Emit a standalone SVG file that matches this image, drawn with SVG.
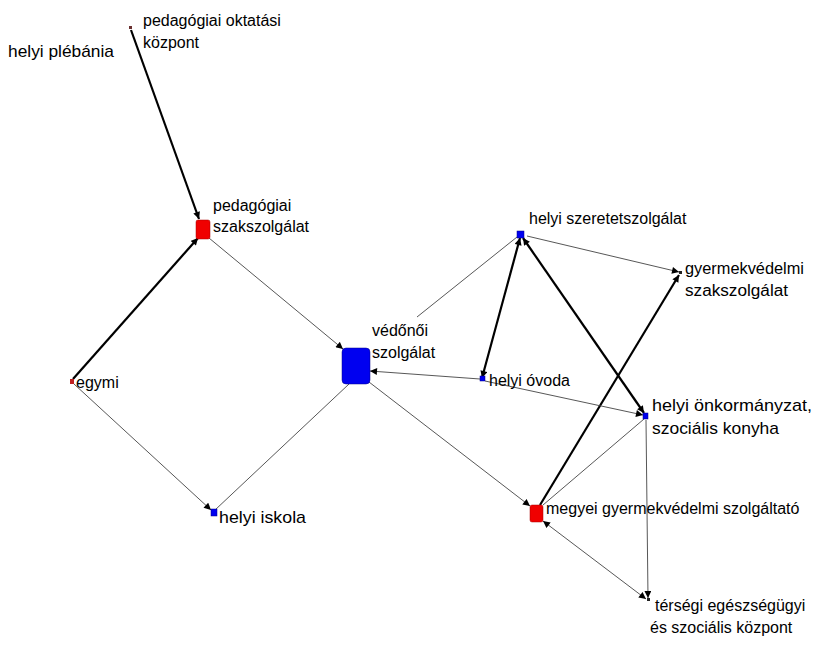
<svg xmlns="http://www.w3.org/2000/svg" width="826" height="654" viewBox="0 0 826 654">
<defs>
<style>
text{font-family:"Liberation Sans",Arial,sans-serif;font-size:16px;fill:#000}
.w{font-size:17px}
.thin{stroke:#444;stroke-width:0.9;fill:none}
.thick{stroke:#000;stroke-width:2.2;fill:none}
.red{fill:#f00000;stroke:#a00;stroke-width:0.5}
.blue{fill:#0000f0;stroke:#008;stroke-width:0.5}
</style>
<marker id="a" viewBox="0 0 10 10" refX="10" refY="5" markerWidth="8" markerHeight="7" markerUnits="userSpaceOnUse" orient="auto"><path d="M0,0L10,5L0,10z" fill="#000"/></marker>
<marker id="as" viewBox="0 0 10 10" refX="10" refY="5" markerWidth="8" markerHeight="7" markerUnits="userSpaceOnUse" orient="auto-start-reverse"><path d="M0,0L10,5L0,10z" fill="#000"/></marker>
</defs>
<rect width="826" height="654" fill="#fff"/>
<g id="connectors">
<line class="thick" x1="131" y1="30" x2="199" y2="219" marker-end="url(#a)"/>
<line class="thick" x1="73" y1="379" x2="198" y2="238" marker-end="url(#a)"/>
<line class="thin" x1="209" y1="238" x2="343" y2="349" marker-end="url(#a)"/>
<line class="thin" x1="74" y1="384" x2="211" y2="510" marker-end="url(#a)"/>
<line class="thin" x1="349" y1="384" x2="215" y2="510"/>
<line class="thin" x1="480" y1="379" x2="370" y2="371" marker-end="url(#a)"/>
<line class="thin" x1="417" y1="317" x2="517" y2="237"/>
<line class="thin" x1="369" y1="382" x2="530" y2="506" marker-end="url(#a)"/>
<line class="thick" x1="482" y1="378" x2="520" y2="238" marker-start="url(#as)" marker-end="url(#a)"/>
<line class="thick" x1="644" y1="413" x2="523" y2="238" marker-start="url(#as)" marker-end="url(#a)"/>
<line class="thin" x1="527" y1="236" x2="679" y2="272" marker-end="url(#a)"/>
<line class="thick" x1="540" y1="505" x2="679" y2="275" marker-end="url(#a)"/>
<line class="thin" x1="485" y1="381" x2="643" y2="415" marker-end="url(#a)"/>
<line class="thin" x1="644" y1="419" x2="543" y2="505"/>
<line class="thin" x1="646" y1="420" x2="648" y2="598" marker-end="url(#a)"/>
<line class="thin" x1="543" y1="521" x2="646" y2="599" marker-start="url(#as)" marker-end="url(#a)"/>
</g>
<g id="n-oktatasi"><rect x="129" y="26" width="3" height="3" fill="#6a3030"/><text x="143" y="26">pedagógiai oktatási</text><text x="143" y="48">központ</text></g>
<g id="n-plebania"><text class="w" x="8" y="57" textLength="106" lengthAdjust="spacingAndGlyphs">helyi plébánia</text></g>
<g id="n-pedszak"><rect class="red" x="196" y="220" width="14" height="19" rx="2"/><text x="213" y="211">pedagógiai</text><text x="213" y="232">szakszolgálat</text></g>
<g id="n-egymi"><rect x="70" y="379" width="4" height="5" fill="#c02020"/><text x="76" y="388">egymi</text></g>
<g id="n-vedonoi"><rect class="blue" x="342" y="348" width="28" height="36" rx="4"/><text x="372" y="336">védőnői</text><text x="372" y="358">szolgálat</text></g>
<g id="n-iskola"><rect class="blue" x="211" y="509" width="6" height="7"/><text class="w" x="219" y="523" textLength="87" lengthAdjust="spacingAndGlyphs">helyi iskola</text></g>
<g id="n-ovoda"><rect class="blue" x="480" y="376" width="5" height="5"/><text x="489" y="386">helyi óvoda</text></g>
<g id="n-szeretet"><rect class="blue" x="517" y="231" width="7" height="7"/><text x="529" y="224">helyi szeretetszolgálat</text></g>
<g id="n-gyvszak"><rect x="679" y="271" width="3" height="3" fill="#222"/><text x="685" y="274" textLength="119" lengthAdjust="spacingAndGlyphs">gyermekvédelmi</text><text x="685" y="296" textLength="103" lengthAdjust="spacingAndGlyphs">szakszolgálat</text></g>
<g id="n-onkorm"><rect class="blue" x="643" y="413" width="5" height="6"/><text class="w" x="652" y="411" textLength="160" lengthAdjust="spacingAndGlyphs">helyi önkormányzat,</text><text class="w" x="652" y="434" textLength="127" lengthAdjust="spacingAndGlyphs">szociális konyha</text></g>
<g id="n-megyei"><rect class="red" x="530" y="505" width="13" height="17" rx="2"/><text x="546" y="514">megyei gyermekvédelmi szolgáltató</text></g>
<g id="n-tersegi"><rect x="647" y="598" width="3" height="3" fill="#222"/><text x="655" y="611">térségi egészségügyi</text><text x="650" y="633">és szociális központ</text></g>
</svg>
